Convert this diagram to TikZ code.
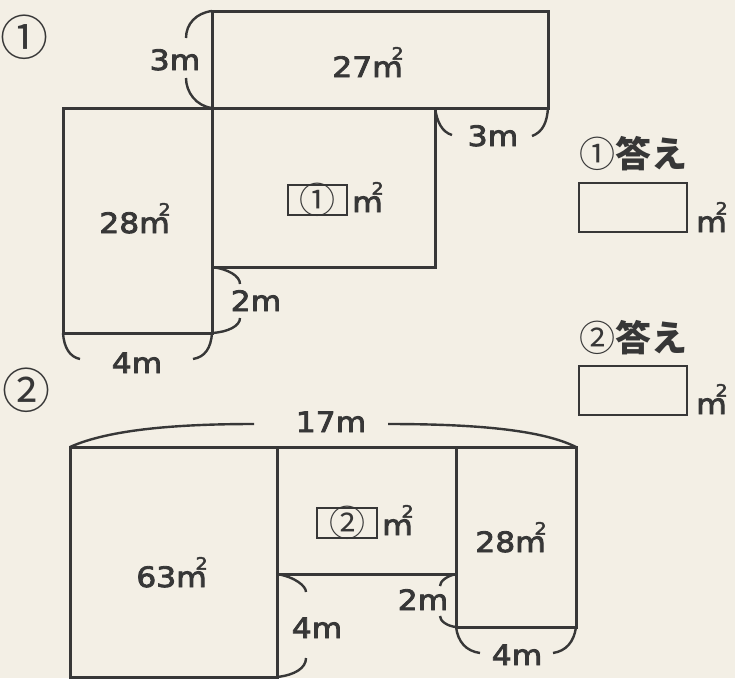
\documentclass[tikz,border=0pt]{standalone}
\usepackage{fontspec}
\setmainfont{DejaVu Sans}[FakeStretch=1.12,FakeBold=3]
\newfontfamily\jp{Noto Sans CJK JP}
\definecolor{bg}{RGB}{243,239,229}
\definecolor{ink}{RGB}{55,55,55}
\newcommand\msq{m\kern-0.40em\raisebox{0.62em}{\fontsize{17}{17}\selectfont 2}}
\tikzset{
  fig/.style={draw=ink, line width=3pt},
  brk/.style={draw=ink, line width=2.4pt},
  lbl/.style={anchor=base, inner sep=0pt, text=ink, font=\fontsize{28}{28}\selectfont},
  unit/.style={anchor=base west, inner sep=0pt, text=ink, font=\fontsize{28}{28}\selectfont},
  ansbox/.style={draw=ink, line width=2.4pt},
  inbox/.style={draw=ink, line width=1.8pt, inner sep=0pt},
  circnum/.style={inner sep=0pt, text=ink, font=\jp\fontsize{36}{36}\selectfont},
  bignum/.style={inner sep=0pt, text=ink, font=\jp\fontsize{48}{48}\selectfont},
  anslbl/.style={anchor=west, inner sep=0pt, text=ink, font=\jp\fontsize{36}{36}\selectfont}
}
\begin{document}
\begin{tikzpicture}[x=1pt,y=-1pt]
\fill[bg] (0,0) rectangle (735,678);
\useasboundingbox (0,0) rectangle (735,678);

% ---------- part 1 ----------
\node[bignum] (n1) at (25,37) {①};
\path (212,11) coordinate (p1tl) (548,108) coordinate (p1tr)
      (63,108) coordinate (p1ll) (212,333) coordinate (p1lr)
      (212,108) coordinate (p1ml) (435,267) coordinate (p1mr);
\draw[fig] (p1tl) rectangle (p1tr);
\draw[fig] (p1ll) rectangle (p1lr);
\draw[fig] (p1ml) rectangle (p1mr);

% 3m (left of top rect)
\draw[brk] (212,11) .. controls (196,13) and (186,24) .. (186,38);
\draw[brk] (186,78) .. controls (186,92) and (196,106) .. (212,108);
\node[lbl] (a3m) at (175,70) {3m};
% 3m (below top rect)
\draw[brk] (435,108) .. controls (437,122) and (442,132) .. (452,135);
\draw[brk] (532,136) .. controls (543,132) and (547,122) .. (548,108);
\node[lbl] (b3m) at (493,146) {3m};
% 2m
\draw[brk] (212,267) .. controls (228,269) and (240,276) .. (240,284);
\draw[brk] (240,318) .. controls (240,326) and (228,332) .. (212,333);
\node[lbl] (a2m) at (256,311) {2m};
% 4m
\draw[brk] (63,333) .. controls (64,348) and (70,357) .. (80,359);
\draw[brk] (193,359) .. controls (205,357) and (211,348) .. (212,333);
\node[lbl] (a4m) at (137,373) {4m};

\node[lbl] (a27) at (368,77) {27\msq};
\node[lbl] (a28) at (135,233) {28\msq};
\node[inbox, minimum width=59pt, minimum height=30pt] (q1) at (317.5,200) {};
\node[circnum] (q1n) at (q1.center) {①};
\node[unit] (q1u) at (352,212) {\msq};

% ---------- answers ----------
\node[anslbl] (ans1) at (579,154) {①{\bfseries 答え}};
\draw[ansbox] (579,183) rectangle (687,232);
\node[unit] (ans1u) at (696,232) {\msq};
\node[anslbl] (ans2) at (579,338) {②{\bfseries 答え}};
\draw[ansbox] (579,366) rectangle (687,415);
\node[unit] (ans2u) at (696,414) {\msq};

% ---------- part 2 ----------
\node[bignum] (n2) at (26,390) {②};
\path (70,447) coordinate (p2ll) (277,677) coordinate (p2lr)
      (277,447) coordinate (p2ml) (456,574) coordinate (p2mr)
      (456,447) coordinate (p2rl) (576,627) coordinate (p2rr);
\draw[fig] (p2ll) rectangle (p2lr);
\draw[fig] (p2ml) rectangle (p2mr);
\draw[fig] (p2rl) rectangle (p2rr);

% 17m
\draw[brk] (70,447) .. controls (110,429) and (180,424) .. (254,424);
\draw[brk] (388,424) .. controls (470,424) and (540,429) .. (576,447);
\node[lbl] (c17) at (331,432) {17m};
% 4m vertical
\draw[brk] (277,574) .. controls (295,577) and (306,586) .. (306,592);
\draw[brk] (306,658) .. controls (306,668) and (295,675) .. (277,677);
\node[lbl] (c4m) at (317,638) {4m};
% 2m
\draw[brk] (456,574) .. controls (447,576) and (440,581) .. (440,586);
\draw[brk] (440,616) .. controls (440,621) and (447,626) .. (456,627);
\node[lbl] (c2m) at (423,610) {2m};
% 4m below right rect
\draw[brk] (456,627) .. controls (458,642) and (466,651) .. (480,653);
\draw[brk] (553,653) .. controls (566,651) and (574,642) .. (576,627);
\node[lbl] (d4m) at (517,665) {4m};

\node[lbl] (c63) at (172,587) {63\msq};
\node[lbl] (c28) at (511,552) {28\msq};
\node[inbox, minimum width=60pt, minimum height=30pt] (q2) at (347,523) {};
\node[circnum] (q2n) at (q2.center) {②};
\node[unit] (q2u) at (382,535) {\msq};
\end{tikzpicture}
\end{document}
